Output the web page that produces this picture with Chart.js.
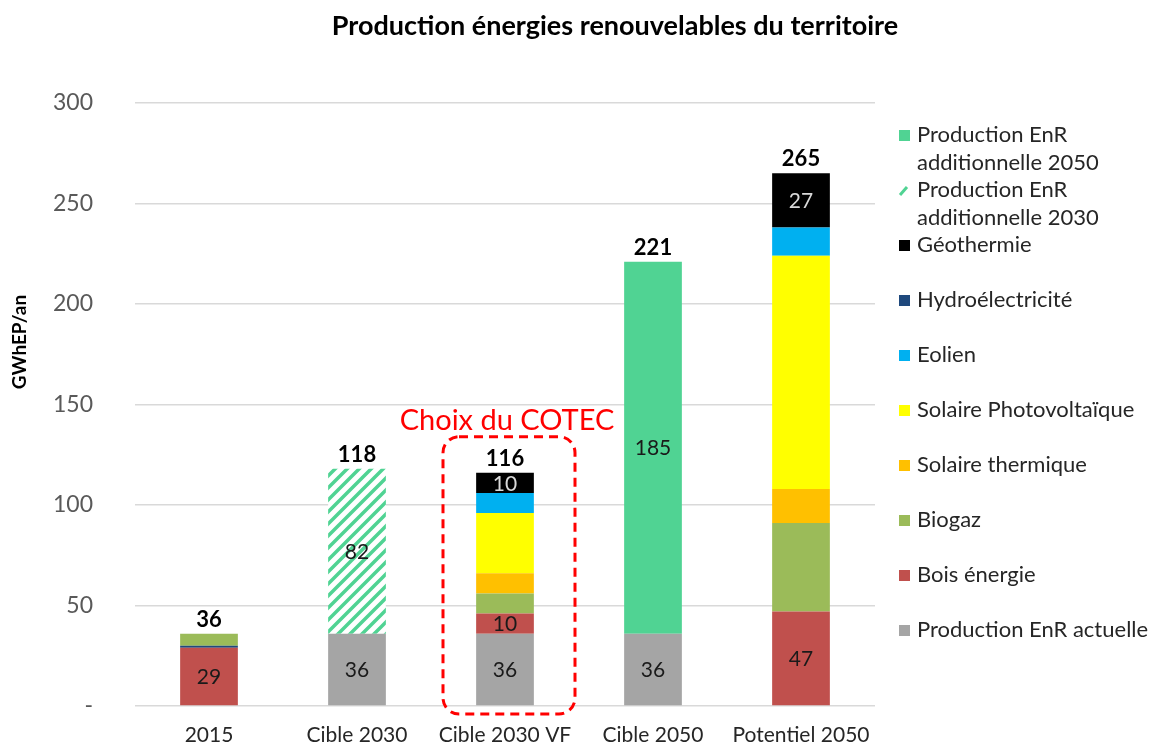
<!DOCTYPE html>
<html>
<head>
<meta charset="utf-8">
<script src="https://cdn.jsdelivr.net/npm/chart.js@4/dist/chart.umd.min.js"></script>
<style>
  html, body { margin: 0; padding: 0; background: #fff; overflow: hidden; }
  canvas { display: block; }
</style>
</head>
<body>
<canvas id="enrChart" width="1153" height="745" style="width:1153px;height:745px"></canvas>
<script>
// =========================
// DATA
// =========================
const categories = ["2015", "Cible 2030", "Cible 2030 VF", "Cible 2050", "Potentiel 2050"];

const enrActuelle = [0, 36, 36, 36, 0];
const boisEnergie = [29, 0, 10, 0, 47];
const hydro = [1, 0, 0, 0, 0];
const biogaz = [6, 0, 10, 0, 44];
const solaireThermique = [0, 0, 10, 0, 17];
const solairePV = [0, 0, 30, 0, 116];
const eolien = [0, 0, 10, 0, 14];
const geothermie = [0, 0, 10, 0, 27];
const add2030 = [0, 82, 0, 0, 0];
const add2050 = [0, 0, 0, 185, 0];

const totals = [36, 118, 116, 221, 265];
const yTicks = [0, 50, 100, 150, 200, 250, 300];

const FONT = "Lato, 'Open Sans', sans-serif";
const GREEN = "#50D393";

// =========================
// HATCH PATTERN
// =========================
function makeHatch() {
  const c = document.createElement("canvas");
  c.width = 12; c.height = 12;
  const g = c.getContext("2d");
  g.fillStyle = "#fff";
  g.fillRect(0, 0, 12, 12);
  g.strokeStyle = GREEN;
  g.lineWidth = 3.5;
  g.beginPath();
  g.moveTo(-6, 6); g.lineTo(6, -6);
  g.moveTo(0, 12); g.lineTo(12, 0);
  g.moveTo(6, 18); g.lineTo(18, 6);
  g.stroke();
  return g.createPattern(c, "repeat");
}
const hatch = makeHatch();

// =========================
// DATASETS
// =========================
function ds(label, data, color, labelAt, labelColor) {
  return {
    label, data,
    backgroundColor: color,
    borderWidth: 0,
    stack: "s",
    barPercentage: 0.39,
    categoryPercentage: 1,
    labelAt: labelAt || [],
    labelColor: labelColor || "#1a1a1a"
  };
}

const datasets = [
  ds("Production EnR actuelle", enrActuelle, "#A5A5A5", [1, 2, 3]),
  ds("Bois énergie", boisEnergie, "#C0504D", [0, 2, 4]),
  ds("Hydroélectricité", hydro, "#1F497D"),
  ds("Biogaz", biogaz, "#9BBB59"),
  ds("Solaire thermique", solaireThermique, "#FFC000"),
  ds("Solaire Photovoltaïque", solairePV, "#FFFF00"),
  ds("Eolien", eolien, "#00B0F0"),
  ds("Géothermie", geothermie, "#000000", [2, 4], "#d9d9d9"),
  ds("Production EnR additionnelle 2030", add2030, hatch, [1]),
  ds("Production EnR additionnelle 2050", add2050, GREEN, [3])
];

// legend order (top to bottom), text lines
const legendItems = [
  { lines: ["Production EnR", "additionnelle 2050"], color: GREEN },
  { lines: ["Production EnR", "additionnelle 2030"], color: GREEN, hatched: true },
  { lines: ["Géothermie"], color: "#000000" },
  { lines: ["Hydroélectricité"], color: "#1F497D" },
  { lines: ["Eolien"], color: "#00B0F0" },
  { lines: ["Solaire Photovoltaïque"], color: "#FFFF00" },
  { lines: ["Solaire thermique"], color: "#FFC000" },
  { lines: ["Biogaz"], color: "#9BBB59" },
  { lines: ["Bois énergie"], color: "#C0504D" },
  { lines: ["Production EnR actuelle"], color: "#A5A5A5" }
];

// =========================
// PLUGINS
// =========================
const extras = {
  id: "extras",
  afterDatasetsDraw(chart) {
    const ctx = chart.ctx;
    const x = chart.scales.x, y = chart.scales.y;

    // values inside segments
    ctx.save();
    ctx.textAlign = "center";
    ctx.textBaseline = "middle";
    ctx.font = "21px " + FONT;
    chart.data.datasets.forEach((d, di) => {
      const meta = chart.getDatasetMeta(di);
      d.labelAt.forEach(i => {
        const el = meta.data[i];
        ctx.fillStyle = d.labelColor;
        ctx.fillText(d.data[i], el.x, (el.y + el.base) / 2 + 1);
      });
    });

    // totals above bars
    ctx.font = "bold 22px " + FONT;
    ctx.fillStyle = "#000";
    ctx.textBaseline = "alphabetic";
    totals.forEach((t, i) => {
      ctx.fillText(t, x.getPixelForValue(i), y.getPixelForValue(t) - 7);
    });

    // category labels under the axis
    ctx.font = "21px " + FONT;
    ctx.fillStyle = "#262626";
    categories.forEach((c, i) => {
      ctx.fillText(c, x.getPixelForValue(i), y.bottom + 36);
    });

    // COTEC box
    const cx = x.getPixelForValue(2) + 4;
    const left = cx - 66, right = cx + 66;
    const top = y.getPixelForValue(134), bottom = y.bottom + 8;
    ctx.strokeStyle = "#FF0000";
    ctx.lineWidth = 3;
    ctx.setLineDash([9, 6]);
    ctx.beginPath();
    ctx.roundRect(left, top, right - left, bottom - top, 16);
    ctx.stroke();
    ctx.setLineDash([]);
    ctx.fillStyle = "#FF0000";
    ctx.font = "29px " + FONT;
    ctx.fillText("Choix du COTEC", cx - 2, top - 7);

    // title
    ctx.fillStyle = "#000";
    ctx.font = "bold 27px " + FONT;
    ctx.fillText("Production énergies renouvelables du territoire", 615, 35);

    // y axis title
    ctx.save();
    ctx.translate(26, 342);
    ctx.rotate(-Math.PI / 2);
    ctx.font = "bold 19px " + FONT;
    ctx.fillText("GWhEP/an", 0, 0);
    ctx.restore();

    // legend
    ctx.textAlign = "left";
    ctx.textBaseline = "middle";
    ctx.font = "22px " + FONT;
    legendItems.forEach((it, k) => {
      const ly = 135 + 55 * k;
      if (it.hatched) {
        ctx.strokeStyle = it.color;
        ctx.lineWidth = 3;
        ctx.beginPath();
        ctx.moveTo(900, ly + 5);
        ctx.lineTo(907, ly - 3);
        ctx.stroke();
      } else {
        ctx.fillStyle = it.color;
        ctx.fillRect(899, ly - 5, 11, 11);
      }
      ctx.fillStyle = "#262626";
      it.lines.forEach((ln, j) => ctx.fillText(ln, 917, ly + j * 28));
    });
    ctx.restore();
  }
};

// =========================
// CHART
// =========================
new Chart(document.getElementById("enrChart"), {
  type: "bar",
  data: { labels: categories, datasets },
  options: {
    responsive: false,
    animation: false,
    layout: { padding: { top: 103, right: 278, bottom: 39, left: 0 } },
    plugins: {
      legend: { display: false },
      tooltip: { enabled: false }
    },
    scales: {
      x: {
        stacked: true,
        display: false
      },
      y: {
        stacked: true,
        min: 0, max: 300,
        afterBuildTicks(s) { s.ticks = yTicks.map(v => ({ value: v })); },
        grid: {
          color: "#d9d9d9", lineWidth: 1.5,
          drawTicks: true, tickLength: 40, tickColor: "rgba(0,0,0,0)"
        },
        border: { display: false },
        ticks: {
          color: "#595959",
          font: { family: FONT, size: 23 },
          padding: 2,
          callback: v => v === 0 ? "-" : v
        },
        afterFit(s) { s.width = 135; }
      }
    }
  },
  plugins: [extras]
});
</script>
</body>
</html>
